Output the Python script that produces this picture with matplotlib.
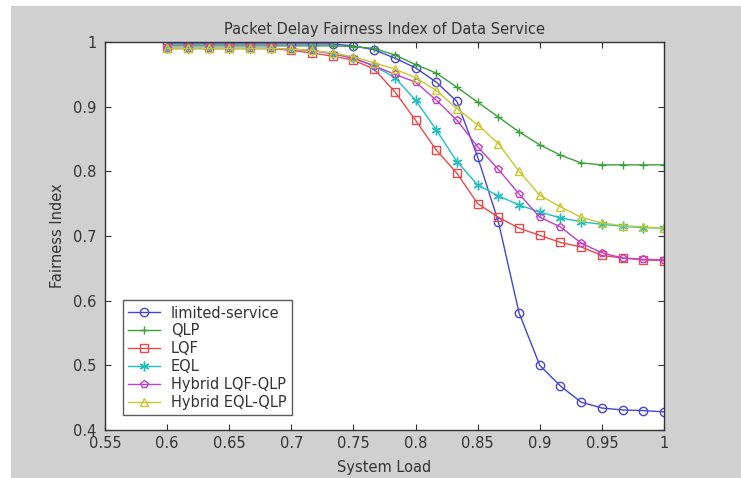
import numpy as np
import matplotlib
matplotlib.use("Agg")
import matplotlib.pyplot as plt
from matplotlib.patches import Rectangle

# ---- data ----
x_load = [0.6 + k / 60 for k in range(25)]

limited_service = [0.997, 0.997, 0.997, 0.997, 0.997, 0.997, 0.997, 0.997, 0.997, 0.994,
                   0.988, 0.975, 0.960, 0.938, 0.908, 0.822, 0.722, 0.581, 0.500, 0.468,
                   0.443, 0.434, 0.431, 0.430, 0.428]
qlp = [0.994, 0.994, 0.994, 0.994, 0.994, 0.994, 0.994, 0.994, 0.994, 0.993,
       0.990, 0.980, 0.965, 0.952, 0.930, 0.907, 0.884, 0.861, 0.841, 0.825,
       0.813, 0.810, 0.810, 0.810, 0.810]
lqf = [0.990, 0.990, 0.990, 0.990, 0.990, 0.990, 0.987, 0.983, 0.978, 0.972,
       0.958, 0.923, 0.879, 0.833, 0.797, 0.750, 0.729, 0.712, 0.701, 0.690,
       0.683, 0.670, 0.666, 0.663, 0.662]
eql = [0.990, 0.990, 0.990, 0.990, 0.990, 0.990, 0.989, 0.987, 0.982, 0.975,
       0.963, 0.945, 0.910, 0.864, 0.815, 0.779, 0.762, 0.748, 0.737, 0.728,
       0.722, 0.718, 0.715, 0.713, 0.712]
hybrid_lqf_qlp = [0.990, 0.990, 0.990, 0.990, 0.990, 0.990, 0.989, 0.987, 0.982, 0.975,
                  0.963, 0.950, 0.938, 0.910, 0.879, 0.838, 0.803, 0.765, 0.729, 0.714,
                  0.689, 0.674, 0.666, 0.664, 0.663]
hybrid_eql_qlp = [0.990, 0.990, 0.990, 0.990, 0.990, 0.990, 0.989, 0.987, 0.983, 0.977,
                  0.968, 0.958, 0.945, 0.925, 0.897, 0.872, 0.843, 0.800, 0.763, 0.745,
                  0.729, 0.720, 0.716, 0.714, 0.712]

labels = ["limited-service", "QLP", "LQF", "EQL", "Hybrid LQF-QLP", "Hybrid EQL-QLP"]
series = [limited_service, qlp, lqf, eql, hybrid_lqf_qlp, hybrid_eql_qlp]
colors = ["#4545d8", "#3aa03a", "#f04848", "#20c0c0", "#c040c8", "#c8c830"]
markers = ["o", "+", "s", (6, 2, 0), "p", "^"]

x_ticks = [0.55, 0.6, 0.65, 0.7, 0.75, 0.8, 0.85, 0.9, 0.95, 1.0]
x_tick_labels = ["0.55", "0.6", "0.65", "0.7", "0.75", "0.8", "0.85", "0.9", "0.95", "1"]
y_ticks = [0.4, 0.5, 0.6, 0.7, 0.8, 0.9, 1.0]
y_tick_labels = ["0.4", "0.5", "0.6", "0.7", "0.8", "0.9", "1"]

plt.rcParams['font.family'] = ['DejaVu Sans']
FS = 10.5
TXT = "#333333"

fig = plt.figure(figsize=(7.41, 4.78), dpi=100, facecolor="white")
fig.patches.append(Rectangle((11 / 741, 0), 1 - 11 / 741, 1 - 6 / 478,
                             transform=fig.transFigure, facecolor="#d0d0d0",
                             edgecolor="none", zorder=-10))

ax = fig.add_axes([105 / 741, 1 - 430 / 478, (664 - 105) / 741, (430 - 42) / 478])
ax.set_facecolor("white")

for ys, lab, c, m in zip(series, labels, colors, markers):
    ax.plot(x_load, ys, color=c, marker=m, markersize=7 if m == (6, 2, 0) else 6,
            markerfacecolor="none", markeredgecolor=c, linewidth=1.0,
            markeredgewidth=1.0, label=lab, clip_on=True)

ax.set_xlim(0.55, 1.0)
ax.set_ylim(0.4, 1.0)
ax.set_xticks(x_ticks)
ax.set_xticklabels(x_tick_labels)
ax.set_yticks(y_ticks)
ax.set_yticklabels(y_tick_labels)
ax.tick_params(direction="in", top=True, right=True, labelsize=FS,
               colors=TXT, length=4)
ax.tick_params(axis="y", pad=6)
ax.tick_params(axis="x", pad=4)
for s in ax.spines.values():
    s.set_color(TXT)
    s.set_linewidth(1.0)

ax.set_title("Packet Delay Fairness Index of Data Service", fontsize=FS,
             color=TXT, pad=6)
ax.set_xlabel("System Load", fontsize=FS, color=TXT, labelpad=7)
ax.set_ylabel("Fairness Index", fontsize=FS, color=TXT, labelpad=6)

leg = ax.legend(loc="lower left", bbox_to_anchor=(0.032, 0.038), fontsize=FS,
                frameon=True, fancybox=False, borderaxespad=0, labelspacing=0.2,
                handlelength=2.2, handletextpad=0.75, borderpad=0.35)
leg.get_frame().set_edgecolor(TXT)
leg.get_frame().set_linewidth(1.0)
for t in leg.get_texts():
    t.set_color(TXT)

fig.savefig("out.png", dpi=100, facecolor=fig.get_facecolor())
